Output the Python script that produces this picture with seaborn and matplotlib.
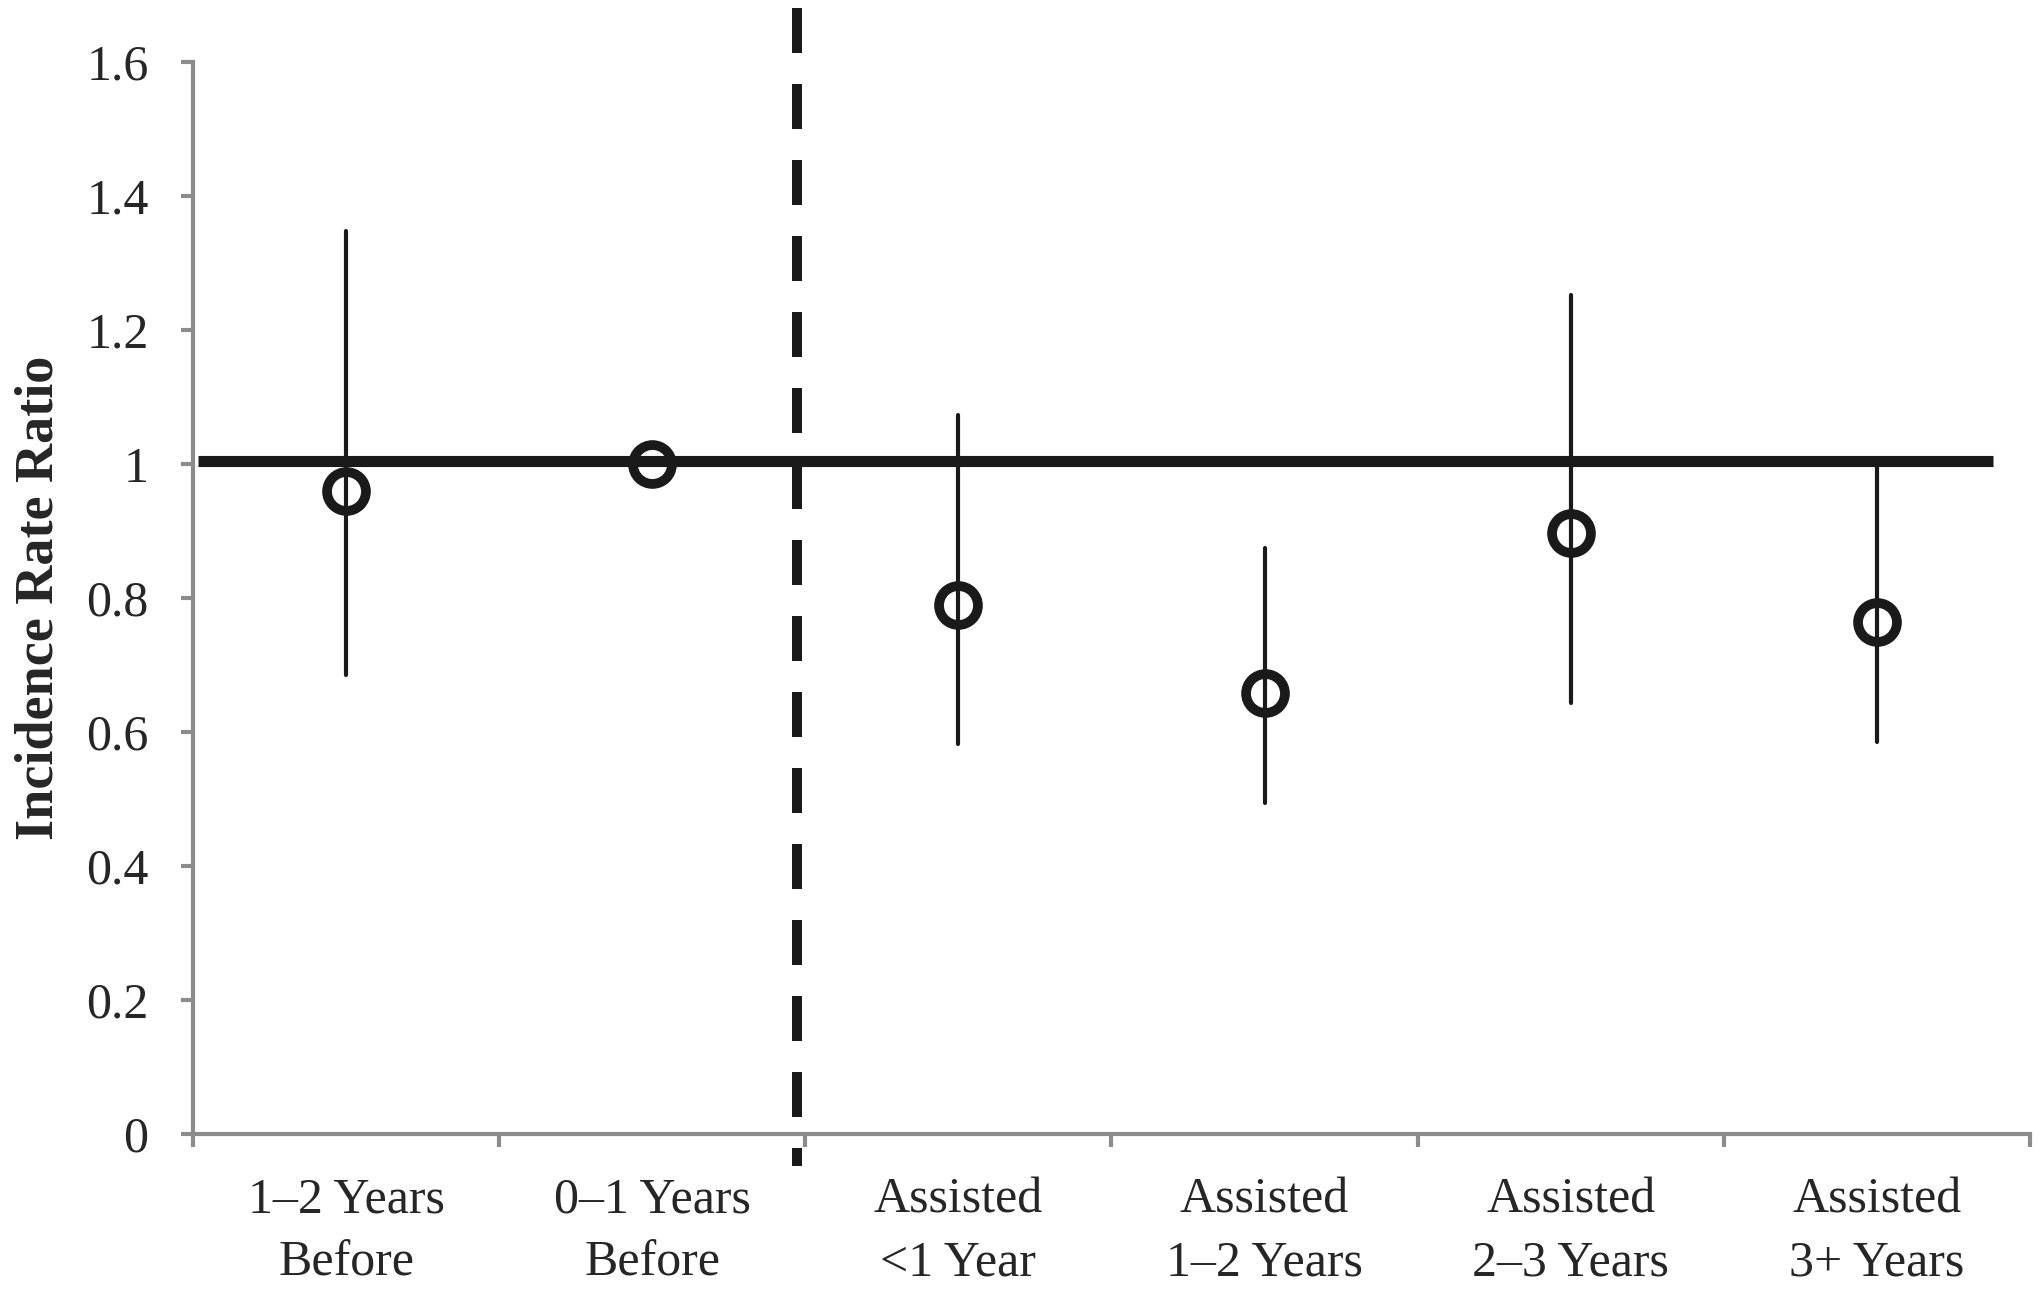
import pandas as pd
import seaborn as sns
import matplotlib.pyplot as plt
from matplotlib.ticker import FixedLocator

# values
periods = ["1–2 Years\nBefore", "0–1 Years\nBefore", "Assisted\n<1 Year",
           "Assisted\n1–2 Years", "Assisted\n2–3 Years", "Assisted\n3+ Years"]
irr = [0.96, 1.0, 0.79, 0.658, 0.897, 0.764]
ci_low = [0.685, 1.0, 0.582, 0.494, 0.643, 0.585]
ci_high = [1.348, 1.0, 1.073, 0.875, 1.252, 1.0]
y_ticks = [0, 0.2, 0.4, 0.6, 0.8, 1.0, 1.2, 1.4, 1.6]
y_labels = ["0", "0.2", "0.4", "0.6", "0.8", "1", "1.2", "1.4", "1.6"]

# long table: median = estimate, min/max = interval ends
rows = []
for p, lo, mid, hi in zip(periods, ci_low, irr, ci_high):
    for v in (lo, mid, hi):
        rows.append({"period": p, "irr": v})
df = pd.DataFrame(rows)

sns.set_style("white")
plt.rcParams["font.family"] = ["Liberation Serif", "DejaVu Serif"]

fig = plt.figure(figsize=(20.4, 12.9), dpi=100)
ax = fig.add_axes([0.0946, 0.1209, 0.9005, 0.831])

ink = "#1a1a1a"
grey = "#8c8c8c"

# reference line at 1
ax.plot([-0.484, 5.38], [1.004, 1.004], color=ink, lw=8, solid_capstyle="butt", zorder=2)

sns.pointplot(data=df, x="period", y="irr", order=periods, estimator="median",
              errorbar=("pi", 100), color=ink, linestyle="none", markers="o",
              markersize=28, markerfacecolor="none", markeredgewidth=7,
              err_kws={"linewidth": 3}, ax=ax, zorder=3)

# divider between before/after periods, drawn top-down so dashes start at the top
ax.plot([1.472, 1.472], [1.68, -0.048], color=ink, lw=7.2, dashes=(4.5, 3.1),
        solid_capstyle="butt", dash_capstyle="butt", clip_on=False, zorder=4)

ax.set_xlim(-0.5, 5.5)
ax.set_ylim(0, 1.6)
ax.set_yticks(y_ticks)
ax.set_yticklabels(y_labels)
ax.xaxis.set_minor_locator(FixedLocator([-0.5, 0.5, 1.5, 2.5, 3.5, 4.5, 5.5]))

for s in ["top", "right"]:
    ax.spines[s].set_visible(False)
for s in ["left", "bottom"]:
    ax.spines[s].set_color(grey)
    ax.spines[s].set_linewidth(3)

ax.tick_params(axis="y", which="major", direction="out", length=9, width=3,
               color=grey, pad=23, labelsize=36, left=True)
ax.tick_params(axis="x", which="major", length=0, pad=31, labelsize=36)
ax.tick_params(axis="x", which="minor", direction="out", length=9, width=3,
               color=grey, bottom=True)
for lab in ax.get_xticklabels():
    lab.set_linespacing(1.45)

ax.set_xlabel("")
ax.set_ylabel("Incidence Rate Ratio", fontsize=39, fontweight="bold")
ax.yaxis.set_label_coords(-0.07, 0.5)

fig.savefig("out.png", dpi=100)
